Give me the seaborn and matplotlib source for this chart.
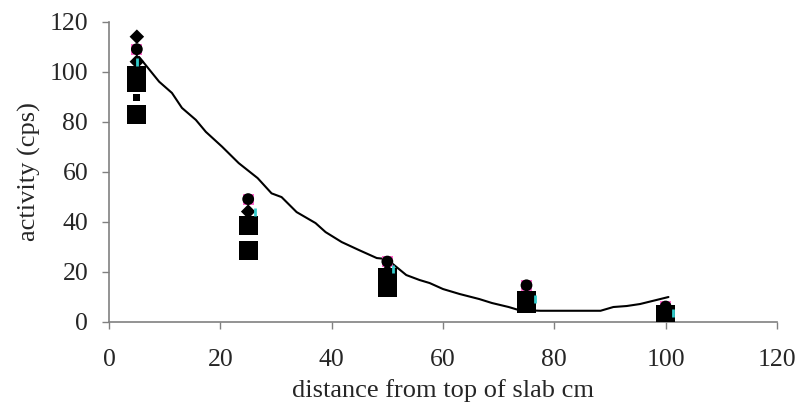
import matplotlib
matplotlib.use("Agg")
import matplotlib.pyplot as plt
import seaborn as sns
import pandas as pd

# ---- data ----
diam_x = [5, 5, 25, 50, 75, 100]
diam_y = [114, 104, 44, 20, 10, 4]

circ_x = [5, 25, 50, 75, 100]
circ_y = [109, 49, 24, 14.5, 6]

pink_x = [5, 25, 50, 75, 100]
pink_y = [109, 49, 24, 14.5, 6]

cyan_x = [5, 26.3, 51, 76.5, 101.3]
cyan_y = [104, 44, 21, 9, 3.4]

sq_x = [5, 5, 5, 25, 25, 50, 50, 75, 75, 100, 100]
sq_y = [98.5, 95.5, 83, 38.3, 28.4, 17.6, 13.6, 8.6, 7, 2.8, 2]

small_x = [5]
small_y = [89.5]

line_x = [5.4, 9.0, 11.3, 13.1, 15.6, 17.4, 20.3, 23.3, 26.7, 29.2, 31, 33.7,
          37.1, 38.9, 41.8, 44.9, 48.1, 49.9, 53.4, 55.8, 57.6, 60, 63, 66.5,
          68.8, 71.8, 73.6, 77.5, 88.3, 90.6, 93, 95.4, 100.5]
line_y = [105.9, 96, 91.5, 85.5, 80.7, 75.9, 70, 63.4, 57.4, 51.3, 49.8, 43.8,
          39.4, 35.8, 31.8, 28.6, 25.4, 25.0, 18.6, 16.6, 15.4, 13, 11, 9.0,
          7.4, 5.8, 4.6, 4.3, 4.3, 5.8, 6.2, 7.0, 9.8]

x_ticks = [0, 20, 40, 60, 80, 100, 120]
y_ticks = [0, 20, 40, 60, 80, 100, 120]

sns.set_style("white")
plt.rcParams['font.family'] = ['Liberation Serif', 'DejaVu Serif']

fig = plt.figure(figsize=(8.04, 4.2), dpi=100)
ax = fig.add_axes([0.1356, 0.2345, 0.8308, 0.7138])

df_line = pd.DataFrame({"x": line_x, "y": line_y})
sns.lineplot(data=df_line, x="x", y="y", sort=False, color="black",
             linewidth=1.5, ax=ax, zorder=2)

sns.scatterplot(x=pink_x, y=pink_y, marker="s", s=62, color="#ff66cc",
                edgecolor="none", ax=ax, zorder=3)
sns.scatterplot(x=cyan_x, y=cyan_y, marker="|", s=30, color="#33cccc",
                linewidth=2, ax=ax, zorder=6)
sns.scatterplot(x=diam_x, y=diam_y, marker="D", s=55, color="black",
                edgecolor="none", ax=ax, zorder=4)
sns.scatterplot(x=sq_x, y=sq_y, marker="s", s=185, color="black",
                edgecolor="none", ax=ax, zorder=5)
sns.scatterplot(x=small_x, y=small_y, marker="s", s=25, color="black",
                edgecolor="none", ax=ax, zorder=5)
sns.scatterplot(x=circ_x, y=circ_y, marker="o", s=72, color="black",
                edgecolor="none", ax=ax, zorder=7)

ax.set_xlim(0, 120)
ax.set_ylim(0, 120)
ax.set_xticks(x_ticks)
ax.set_yticks(y_ticks)
ax.tick_params(axis="both", direction="out", length=5, width=1, color="#808080",
               labelsize=18.5, left=True, bottom=True)
ax.tick_params(axis="x", pad=14.5)
ax.tick_params(axis="y", pad=10)
for side in ["top", "right"]:
    ax.spines[side].set_visible(False)
for side in ["left", "bottom"]:
    ax.spines[side].set_color("#808080")
    ax.spines[side].set_linewidth(1.2)

ax.set_xlabel("distance from top of slab cm", fontsize=19, labelpad=6)
ax.set_ylabel("activity (cps)", fontsize=19, labelpad=6)

fig.savefig("out.png", dpi=100)
